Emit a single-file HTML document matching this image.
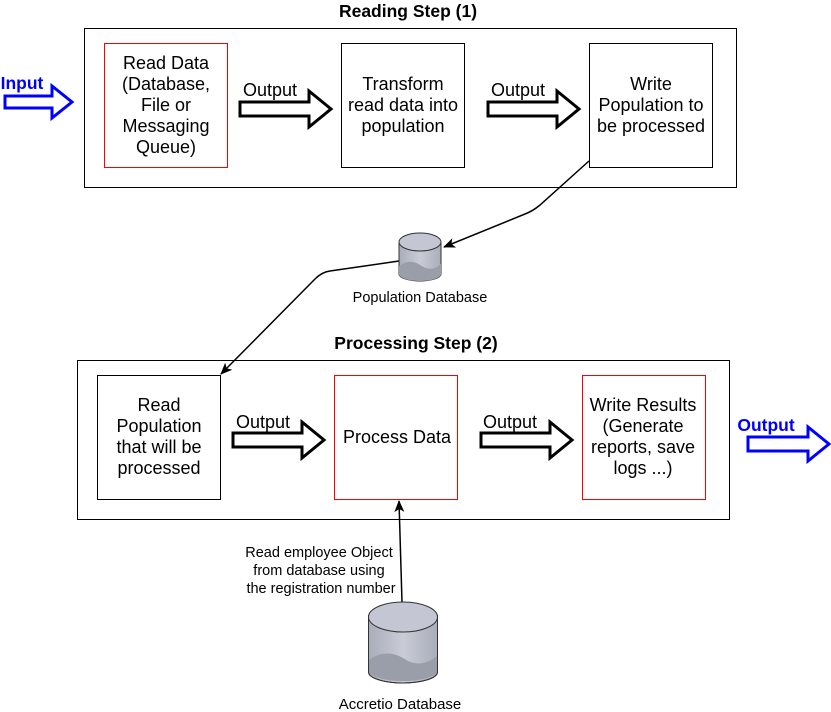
<!DOCTYPE html>
<html><head><style>body{margin:0;background:#fff}svg{display:block}text{font-family:"Liberation Sans",sans-serif}</style></head>
<body>
<svg width="831" height="712" viewBox="0 0 831 712" xmlns="http://www.w3.org/2000/svg">
<defs>
<marker id="ah" markerWidth="12" markerHeight="10" refX="11" refY="5" orient="auto" markerUnits="userSpaceOnUse"><path d="M0,0 L12,5 L0,10 L3,5 z" fill="#000"/></marker>
<linearGradient id="cg" x1="0" x2="1"><stop offset="0" stop-color="#a9adb9"/><stop offset="0.5" stop-color="#c9ccd6"/><stop offset="1" stop-color="#a9adb9"/></linearGradient>
</defs>
<rect x="84.5" y="28.5" width="652" height="159" fill="#fff" stroke="#000"/>
<rect x="77.5" y="360.5" width="652" height="159" fill="#fff" stroke="#000"/>
<text x="408" y="17" text-anchor="middle" font-size="17.5" font-weight="bold">Reading Step (1)</text>
<text x="416" y="349" text-anchor="middle" font-size="17.5" font-weight="bold">Processing Step (2)</text>

<rect x="104.5" y="43.5" width="123" height="124" fill="#fff" stroke="#f00"/>
<rect x="341.5" y="43.5" width="123" height="124" fill="#fff" stroke="#000"/>
<rect x="589.5" y="43.5" width="123" height="124" fill="#fff" stroke="#000"/>
<rect x="97.5" y="375.5" width="123" height="124" fill="#fff" stroke="#000"/>
<rect x="334.5" y="375.5" width="123" height="124" fill="#fff" stroke="#f00"/>
<rect x="582.5" y="375.5" width="123" height="124" fill="#fff" stroke="#f00"/>

<g font-size="18" text-anchor="middle">
<text x="166" y="69">Read Data</text><text x="166" y="90">(Database,</text><text x="166" y="111">File or</text><text x="166" y="132">Messaging</text><text x="166" y="153">Queue)</text>
<text x="403" y="90">Transform</text><text x="403" y="111">read data into</text><text x="403" y="132">population</text>
<text x="651" y="90">Write</text><text x="651" y="111">Population to</text><text x="651" y="132">be processed</text>
<text x="159" y="411">Read</text><text x="159" y="432">Population</text><text x="159" y="453">that will be</text><text x="159" y="474">processed</text>
<text x="397" y="443">Process Data</text>
<text x="643" y="411">Write Results</text><text x="643" y="432">(Generate</text><text x="643" y="453">reports, save</text><text x="643" y="474">logs ...)</text>
</g>

<g fill="#fff" stroke="#000" stroke-width="3">
<path d="M240,102 H309 V91 L331,109 L309,127 V116 H240 z"/>
<path d="M488,102 H557 V91 L579,109 L557,127 V116 H488 z"/>
<path d="M233,433 H302 V422 L324,440 L302,458 V447 H233 z"/>
<path d="M481,433 H550 V422 L572,440 L550,458 V447 H481 z"/>
</g>
<g fill="#fff" stroke="#00f" stroke-width="3">
<path d="M5,96 H52 V86 L72,102 L52,118 V108 H5 z"/>
<path d="M748,437 H808 V427 L829,444 L808,461 V451 H748 z"/>
</g>
<g font-size="18" text-anchor="middle">
<text x="270" y="96">Output</text><text x="518" y="96">Output</text>
<text x="263" y="428">Output</text><text x="510" y="428">Output</text>
</g>
<text x="22" y="89" font-size="17.5" font-weight="bold" fill="#00f" text-anchor="middle">Input</text>
<text x="766" y="431" font-size="17.5" font-weight="bold" fill="#00f" text-anchor="middle">Output</text>

<g fill="none" stroke="#000" stroke-width="1.5">
<path d="M589,161 L540,205 Q533,211 525,214 L444,247" marker-end="url(#ah)"/>
<path d="M399,261 L330,271 Q322,272 315,279 L221,374" marker-end="url(#ah)"/>
<path d="M402,602 L399,501" marker-end="url(#ah)"/>
</g>

<g stroke="#333" stroke-width="1">
<path d="M399,243 V274 A21,7 0 0 0 441,274 V243" fill="url(#cg)"/>
<path d="M399,266 Q410,258 420,265 Q432,273 441,264 V274 A21,7 0 0 1 399,274 z" fill="#9a9ea8" stroke="none"/>
<ellipse cx="420" cy="242" rx="21" ry="9" fill="#c4c7d3"/>
<path d="M368.5,615 V672 A34.5,11 0 0 0 437.5,672 V615" fill="url(#cg)"/>
<path d="M369,660 Q386,648 403,658 Q420,670 437,656 V672 A34.5,11 0 0 1 369,672 z" fill="#9a9ea8" stroke="none"/>
<path d="M368.5,615 V672 A34.5,11 0 0 0 437.5,672 V615" fill="none"/>
<ellipse cx="403" cy="617" rx="34.5" ry="15" fill="#c4c7d3"/>
</g>
<text x="420" y="302" font-size="14.5" text-anchor="middle">Population Database</text>
<text x="400" y="709" font-size="15" text-anchor="middle">Accretio Database</text>
<g font-size="14.5" text-anchor="middle">
<text x="319" y="557">Read employee Object</text>
<text x="319" y="575">from database using</text>
<text x="321" y="593">the registration number</text>
</g>
</svg>
</body></html>
